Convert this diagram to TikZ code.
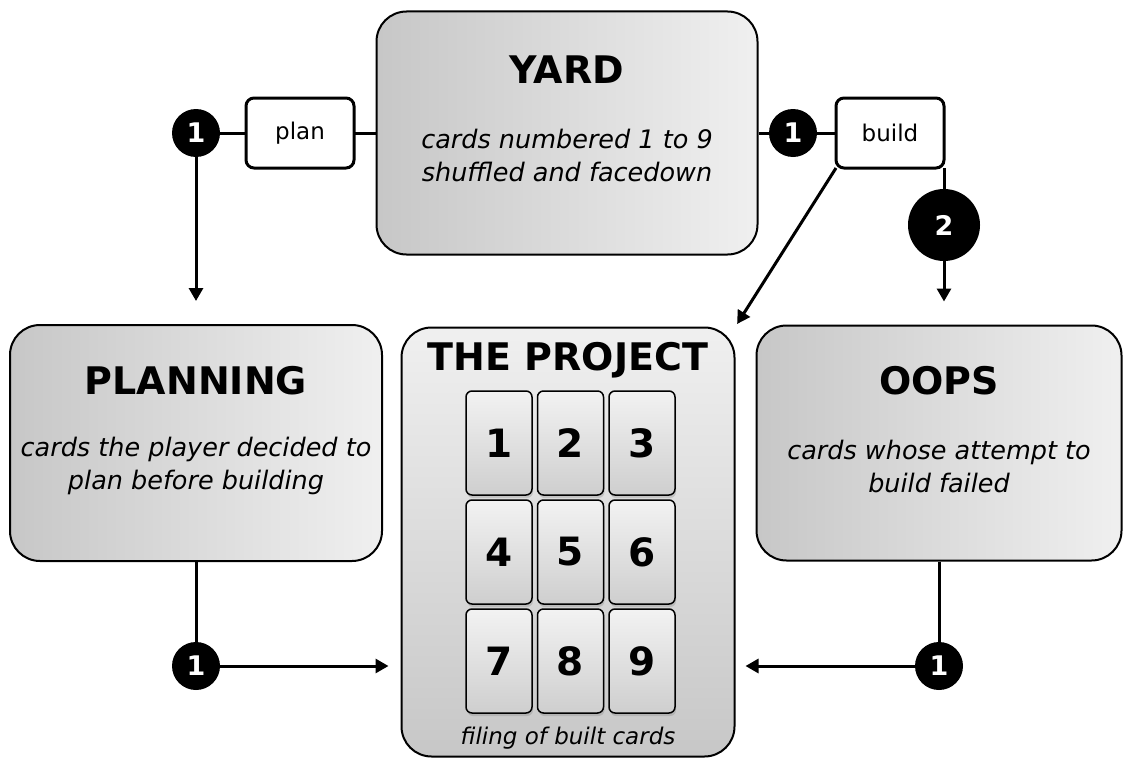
\documentclass[tikz,border=0pt]{standalone}
\usepackage{fontspec}
\setmainfont{DejaVu Sans}
\usetikzlibrary{arrows.meta,shadows}

\definecolor{zonedark}{gray}{0.78}
\definecolor{zonelight}{gray}{0.94}
\definecolor{cardtop}{gray}{0.95}
\definecolor{cardbot}{gray}{0.81}

\begin{document}
\begin{tikzpicture}
[
x=1pt, y=-1pt,
zone/.style={rounded corners=30pt, draw=black, line width=2pt, left color=zonedark, right color=zonelight},
pile/.style={rounded corners=30pt, draw=black, line width=2pt, top color=zonelight, bottom color=zonedark},
card/.style={rounded corners=6pt, draw=black, line width=1.5pt, top color=cardtop, bottom color=cardbot, minimum width=66pt, minimum height=104pt, font=\fontsize{39}{42}\selectfont\bfseries, drop shadow={shadow xshift=1pt, shadow yshift=-3pt, opacity=0.3}},
action/.style={rounded corners=8pt, draw=black, line width=3pt, fill=white, outer sep=0, minimum width=108pt, minimum height=70pt, font=\fontsize{23}{26}\selectfont},
badge/.style={circle, fill=black, text=white, inner sep=0, minimum size=48pt, font=\fontsize{27}{27}\selectfont\bfseries},
bigbadge/.style={badge, minimum size=72pt},
title/.style={font=\fontsize{38}{42}\selectfont\bfseries},
blurb/.style={align=center, font=\fontsize{25.5}{33}\selectfont\itshape},
line/.style={line width=3pt},
flow/.style={line width=3pt, -{Triangle[length=13pt,width=14pt]}}
]
\useasboundingbox (0,0) rectangle (1124,760);

%Zones
\node[zone, minimum width=381pt, minimum height=243pt] (yard)     at (567,133) {};
\node[zone, minimum width=372pt, minimum height=236pt] (planning) at (196,443) {};
\node[zone, minimum width=365pt, minimum height=235pt] (oops)     at (939,443) {};
\node[pile, minimum width=333pt, minimum height=429pt] (project)  at (568,542) {};

\node[title] (yardT)     at (567,70)  {YARD};
\node[blurb] (yardB)     at (567,155) {cards numbered 1 to 9\\shuffled and facedown};
\node[title] (planningT) at (196,381) {PLANNING};
\node[blurb] (planningB) at (196,466) {cards the player decided to\\plan before building};
\node[title] (oopsT)     at (939,381) {OOPS};
\node[blurb] (oopsB)     at (939,466) {cards whose attempt to\\build failed};
\node[title] (projectT)  at (568,360) {THE PROJECT};
\node[blurb, font=\fontsize{23}{28}\selectfont\itshape] (projectB) at (568,738) {filing of built cards};

%Cards
\foreach \n [count=\i from 0] in {1,...,9}
{
  \pgfmathtruncatemacro{\col}{mod(\i,3)}
  \pgfmathtruncatemacro{\row}{div(\i,3)}
  \node[card] (card\n) at (499+71.5*\col, 443+109*\row) {\n};
}

%Actions
\node[action] (plan)  at (300,133) {plan};
\node[action] (build) at (890,133) {build};

\node[badge]    (planOne)  at (196,133) {1};
\node[badge]    (buildOne) at (793,133) {1};
\node[bigbadge] (buildTwo) at (944,225) {2};
\node[badge]    (backOne)  at (196,666) {1};
\node[badge]    (fixOne)   at (939,666) {1};

%Lines
\draw[line] (planOne) -- (plan) -- (yard);
\draw[line] (yard) -- (buildOne) -- (build);
\draw[flow, shorten >=23pt] (planOne) -- (planning);
\draw[line] (build.south east) -- (buildTwo);
\draw[flow, shorten >=23pt] (buildTwo) -- (buildTwo |- oops.north);
\draw[flow, shorten >=3pt] (build.south west) -- (project.north east);
\draw[line] (planning.south) -- (backOne);
\draw[flow, shorten >=12pt] (backOne) -- (backOne -| project.west);
\draw[line] (oops.south) -- (fixOne);
\draw[flow, shorten >=10pt] (fixOne) -- (fixOne -| project.east);

\end{tikzpicture}
\end{document}
